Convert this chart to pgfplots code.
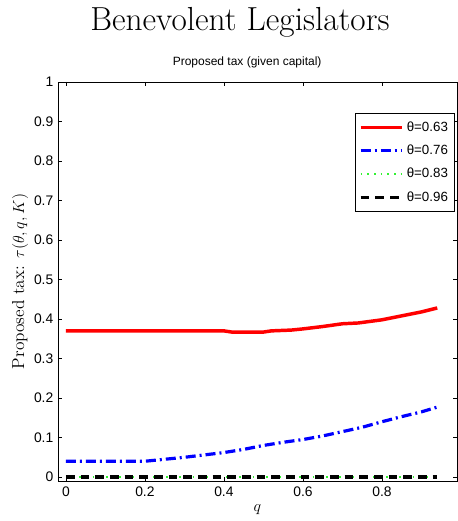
\documentclass[border=0pt]{standalone}
\usepackage{pgfplots}
\pgfplotsset{compat=1.18}
\usetikzlibrary{calc}
\usepackage{fontspec}
\newfontfamily\arial{Liberation Sans}
\definecolor{mgreen}{rgb}{0.2,0.95,0.2}
\begin{document}
\begin{tikzpicture}
\begin{axis}[
  scale only axis,
  width=299.25pt, height=299.25pt,
  xmin=-0.02, xmax=0.99, ymin=-0.01, ymax=1,
  xtick={0,0.2,0.4,0.6,0.8},
  ytick={0,0.1,0.2,0.3,0.4,0.5,0.6,0.7,0.8,0.9,1},
  tick align=inside,
  major tick length=3pt,
  axis line style={line width=0.7pt},
  tick style={line width=0.4pt, black},
  /pgf/number format/assume math mode=true,
  tick label style={font=\arial\fontsize{10.4}{12}\selectfont},
  xticklabel style={yshift=-1pt},
  legend style={
    at={(rel axis cs:0.995,0.922)}, anchor=north east,
    draw=black, line width=0.6pt, fill=white,
    font=\arial\fontsize{10}{12}\selectfont,
    row sep=4.8pt, inner xsep=3pt, inner ysep=4pt,
    cells={anchor=west},
  },
  legend image code/.code={\draw[#1] plot coordinates {(0cm,0cm) (1.1cm,0cm)};},
]
\addplot[red, line width=2.6pt] coordinates {
(0,0.37) (0.1,0.37) (0.2,0.37) (0.3,0.37) (0.4,0.37) (0.42,0.367) (0.5,0.367)
(0.52,0.37) (0.57,0.372) (0.6,0.375) (0.65,0.381) (0.7,0.388) (0.74,0.39)
(0.8,0.398) (0.86,0.41) (0.9,0.418) (0.94,0.428)
};
\addplot[blue, line width=2.4pt, dash pattern=on 7.5pt off 3pt on 1.5pt off 3pt] coordinates {
(0,0.04) (0.2,0.04) (0.25,0.045) (0.3,0.05) (0.35,0.056) (0.4,0.062) (0.45,0.07)
(0.5,0.08) (0.55,0.088) (0.6,0.095) (0.65,0.104) (0.7,0.115) (0.75,0.126)
(0.8,0.14) (0.85,0.153) (0.9,0.165) (0.94,0.177)
};
\addplot[mgreen, line width=1.3pt, dash pattern=on 1.2pt off 3.8pt] coordinates {
(0,0) (0.94,0)
};
\addplot[black, line width=2.6pt, dash pattern=on 6.5pt off 4.5pt] coordinates {
(0,0) (0.94,0)
};
\legend{θ=0.63,θ=0.76,θ=0.83,θ=0.96}
\coordinate (bl) at (rel axis cs:0,0);
\coordinate (tr) at (rel axis cs:1,1);
\end{axis}
\node[font=\fontsize{25}{29}\selectfont, anchor=base] at ($(bl|-tr)!0.456!(tr)+(0,38.25pt)$) {Benevolent Legislators};
\node[font=\arial\fontsize{9}{11}\selectfont, anchor=base] at ($(bl|-tr)!0.474!(tr)+(0,12pt)$) {Proposed tax (given capital)};
\node[font=\fontsize{13}{16}\selectfont, rotate=90, anchor=center] at ($(bl)!0.5!(bl|-tr)+(-28.5pt,0)$) {Proposed tax: $\tau(\theta,q,K)$};
\node[font=\fontsize{13}{15}\selectfont, anchor=center] at ($(bl)!0.5!(tr|-bl)+(0,-21.75pt)$) {$q$};
\pgfresetboundingbox
\path ([xshift=-43.5pt,yshift=-30pt]bl) rectangle ([yshift=61.5pt]tr);
\end{tikzpicture}
\end{document}
